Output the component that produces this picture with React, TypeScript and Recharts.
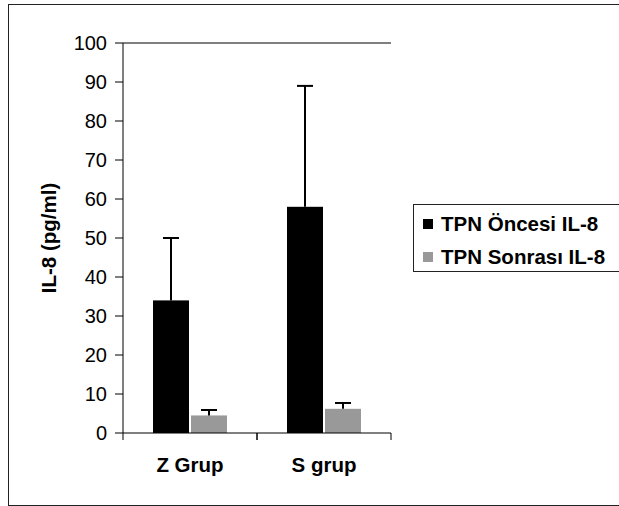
import React from 'react';
import { BarChart, Bar, XAxis, YAxis, Legend, ReferenceLine } from 'recharts';

const groups = ['Z Grup', 'S grup'];
const oncesi = [34, 58];
const oncesiErr = [16, 31];
const sonrasi = [4.5, 6.2];
const sonrasiErr = [1.4, 1.5];
const yTicks = [0, 10, 20, 30, 40, 50, 60, 70, 80, 90, 100];
const seriesOrder = ['oncesi', 'sonrasi'];

const data = groups.map((group, i) => ({
  group,
  oncesi: oncesi[i],
  oncesiErr: oncesiErr[i],
  sonrasi: sonrasi[i],
  sonrasiErr: sonrasiErr[i],
}));

const FONT = '"Liberation Sans", Arial, sans-serif';
const X_TICK_SIZE = 7;
const X_TICK_MARGIN = 20;

// bar plus an upward-only error whisker (Excel style)
const barWithError = (valKey: string, errKey: string) => (props: any) => {
  const { x, y, width, height, fill, payload } = props;
  const v = payload[valKey];
  const e = payload[errKey];
  const top = v ? y - (e * height) / v : y;
  const cx = x + width / 2;
  return (
    <g>
      <rect x={x} y={y} width={width} height={height} fill={fill} />
      <line x1={cx} x2={cx} y1={y} y2={top} stroke="#000" strokeWidth={2} />
      <line x1={cx - 8} x2={cx + 8} y1={top} y2={top} stroke="#000" strokeWidth={2} />
    </g>
  );
};

const GroupTick = (props: any) => {
  const { x, y, payload } = props;
  const half = payload?.offset ?? 0;
  const axisY = y - X_TICK_SIZE - X_TICK_MARGIN;
  return (
    <g>
      {half > 0 && (
        <>
          <line x1={x - half} x2={x - half} y1={axisY} y2={axisY + X_TICK_SIZE} stroke="#000" />
          <line x1={x + half} x2={x + half} y1={axisY} y2={axisY + X_TICK_SIZE} stroke="#000" />
        </>
      )}
      <text x={x} y={y} dy={12} textAnchor="middle" fontFamily={FONT} fontSize={20.5} fontWeight="bold" fill="#000">
        {payload.value}
      </text>
    </g>
  );
};

const LegendBox = (props: any) => {
  const items = [...(props.payload || [])].sort(
    (a: any, b: any) => seriesOrder.indexOf(a.dataKey) - seriesOrder.indexOf(b.dataKey)
  );
  return (
    <div
      style={{
        border: '1px solid #222',
        boxSizing: 'border-box',
        width: 220,
        height: 68,
        background: '#fff',
        paddingTop: 2,
        fontFamily: FONT,
        fontWeight: 'bold',
        fontSize: 20.5,
        color: '#000',
      }}
    >
      {items.map((it: any) => (
        <div key={it.value} style={{ display: 'flex', alignItems: 'center', height: 33, paddingLeft: 9 }}>
          <span style={{ display: 'inline-block', width: 10, height: 10, background: it.color, marginRight: 8 }} />
          <span>{it.value}</span>
        </div>
      ))}
    </div>
  );
};

export default function App() {
  return (
    <div style={{ position: 'absolute', left: 0, top: 0, width: 619, height: 506, overflow: 'hidden', background: '#fff' }}>
      <div
        style={{
          position: 'absolute',
          left: 8,
          top: 4,
          width: 640,
          height: 502,
          border: '1px solid #222',
          boxSizing: 'border-box',
        }}
      />
      <BarChart
        width={619}
        height={506}
        data={data}
        margin={{ top: 43, right: 228, bottom: 13, left: 7 }}
        barCategoryGap={30}
        barGap={2}
      >
        <XAxis
          dataKey="group"
          height={60}
          tickLine={false}
          tickSize={X_TICK_SIZE}
          tickMargin={X_TICK_MARGIN}
          axisLine={{ stroke: '#000' }}
          tick={<GroupTick />}
          interval={0}
        />
        <YAxis
          width={116}
          domain={[0, 100]}
          ticks={yTicks}
          interval={0}
          tickSize={8}
          tickMargin={8}
          axisLine={{ stroke: '#000' }}
          tickLine={{ stroke: '#000' }}
          tick={{ fill: '#000', fontSize: 20, fontFamily: FONT }}
          label={{
            content: (p: any) => {
              const vb = p.viewBox;
              const cy = vb.y + vb.height / 2;
              return (
                <text
                  x={48}
                  y={cy}
                  transform={`rotate(-90, 48, ${cy})`}
                  textAnchor="middle"
                  dominantBaseline="central"
                  fontFamily={FONT}
                  fontSize={20.5}
                  fontWeight="bold"
                  fill="#000"
                >
                  IL-8 (pg/ml)
                </text>
              );
            },
          }}
        />
        <YAxis yAxisId="frame" orientation="right" width={0} tick={false} tickLine={false} axisLine={{ stroke: '#000' }} />
        <ReferenceLine y={100} stroke="#000" />
        <Legend
          layout="horizontal"
          verticalAlign="middle"
          align="center"
          content={<LegendBox />}
          wrapperStyle={{ position: 'absolute', left: 413, top: 204, width: 220, height: 68 }}
        />
        <Bar
          dataKey="oncesi"
          name="TPN Öncesi IL-8"
          fill="#000000"
          isAnimationActive={false}
          shape={barWithError('oncesi', 'oncesiErr')}
        />
        <Bar
          dataKey="sonrasi"
          name="TPN Sonrası IL-8"
          fill="#999999"
          isAnimationActive={false}
          shape={barWithError('sonrasi', 'sonrasiErr')}
        />
      </BarChart>
    </div>
  );
}
